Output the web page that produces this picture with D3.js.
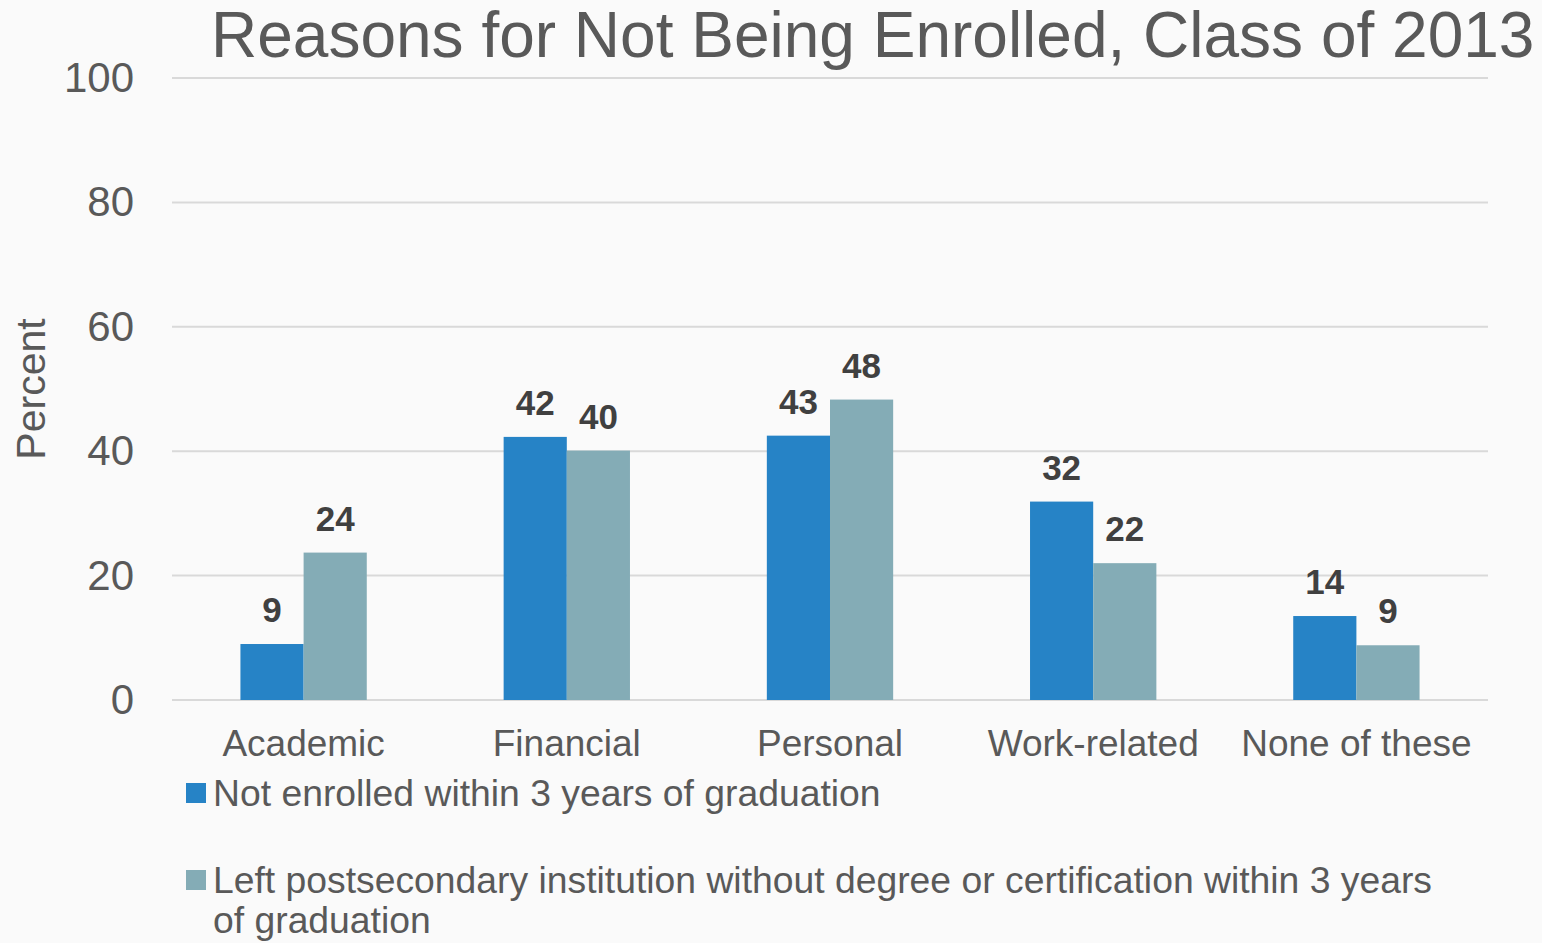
<!DOCTYPE html>
<html>
<head>
<meta charset="utf-8">
<style>
  body { margin: 0; background: #fafafa; }
  svg { display: block; font-family: "Liberation Sans", Arial, sans-serif; }
</style>
</head>
<body>
<script src="https://d3js.org/d3.v7.min.js"></script>
<div id="chart"></div>
<script>
// data
var categories = ["Academic", "Financial", "Personal", "Work-related", "None of these"];
var notEnrolled = [9.0, 42.3, 42.5, 31.9, 13.5];
var leftInstitution = [23.7, 40.1, 48.3, 22.0, 8.8];
var seriesNames = ["Not enrolled within 3 years of graduation",
                   "Left postsecondary institution without degree or certification within 3 years of graduation"];
var yTicks = [0, 20, 40, 60, 80, 100];

var W = 1542, H = 943;
var margin = {top: 78, right: 54, bottom: 243, left: 172};
var width = W - margin.left - margin.right,
    height = H - margin.top - margin.bottom;
var colors = ["#2683c6", "#84acb6"];
var textCol = "#595959";

var svg = d3.select("#chart").append("svg")
  .attr("width", W).attr("height", H)
  .style("background", "#fafafa");

// title
svg.append("text")
  .attr("x", 211).attr("y", 57)
  .attr("fill", textCol)
  .style("font-size", "64px")
  .text("Reasons for Not Being Enrolled, Class of 2013");

var g = svg.append("g").attr("transform", "translate(" + margin.left + "," + margin.top + ")");

var x = d3.scaleBand().domain(categories).range([0, width]).paddingInner(0.52).paddingOuter(0.26);
var x1 = d3.scaleBand().domain([0, 1]).range([0, x.bandwidth()]);
var y = d3.scaleLinear().domain([0, 100]).range([height, 0]);

// gridlines
g.selectAll(".grid").data(yTicks).enter().append("line")
  .attr("x1", 0).attr("x2", width)
  .attr("y1", function(d) { return y(d); }).attr("y2", function(d) { return y(d); })
  .attr("stroke", "#d9d9d9").attr("stroke-width", 2);

// y axis labels
var yAxis = g.append("g").call(d3.axisLeft(y).tickValues(yTicks).tickSize(0).tickPadding(38));
yAxis.select(".domain").remove();
yAxis.selectAll("text").attr("fill", textCol).style("font-size", "42px")
  .attr("font-family", "Liberation Sans, Arial, sans-serif");

// y title
svg.append("text")
  .attr("transform", "translate(45,389) rotate(-90)")
  .attr("text-anchor", "middle")
  .attr("fill", textCol)
  .style("font-size", "41px")
  .text("Percent");

// bars
var rows = categories.map(function(c, i) { return {cat: c, vals: [notEnrolled[i], leftInstitution[i]]}; });
var grp = g.selectAll(".cat").data(rows).enter().append("g")
  .attr("transform", function(d) { return "translate(" + x(d.cat) + ",0)"; });

grp.selectAll("rect").data(function(d) { return d.vals; }).enter().append("rect")
  .attr("x", function(d, i) { return x1(i); })
  .attr("width", x1.bandwidth())
  .attr("y", function(d) { return y(d); })
  .attr("height", function(d) { return height - y(d); })
  .attr("fill", function(d, i) { return colors[i]; });

grp.selectAll(".lbl").data(function(d) { return d.vals; }).enter().append("text")
  .attr("x", function(d, i) { return x1(i) + x1.bandwidth() / 2; })
  .attr("y", function(d) { return y(d) - 22; })
  .attr("text-anchor", "middle")
  .attr("fill", "#404040")
  .style("font-size", "35px").style("font-weight", "bold")
  .text(function(d) { return Math.round(d); });

// x axis labels
var xAxis = g.append("g").attr("transform", "translate(0," + height + ")")
  .call(d3.axisBottom(x).tickSize(0).tickPadding(30));
xAxis.select(".domain").remove();
xAxis.selectAll("text").attr("fill", textCol).style("font-size", "37px")
  .attr("font-family", "Liberation Sans, Arial, sans-serif");

// legend
var legendLines = [[seriesNames[0]],
  ["Left postsecondary institution without degree or certification within 3 years", "of graduation"]];
var legendY = [806, 893];
legendLines.forEach(function(lines, i) {
  svg.append("rect").attr("x", 186).attr("y", legendY[i] - 23).attr("width", 20).attr("height", 20)
    .attr("fill", colors[i]);
  var t = svg.append("text").attr("x", 213).attr("y", legendY[i])
    .attr("fill", textCol).style("font-size", "37.3px");
  lines.forEach(function(l, j) {
    t.append("tspan").attr("x", 213).attr("dy", j === 0 ? 0 : 40).text(l);
  });
});
</script>
</body>
</html>
